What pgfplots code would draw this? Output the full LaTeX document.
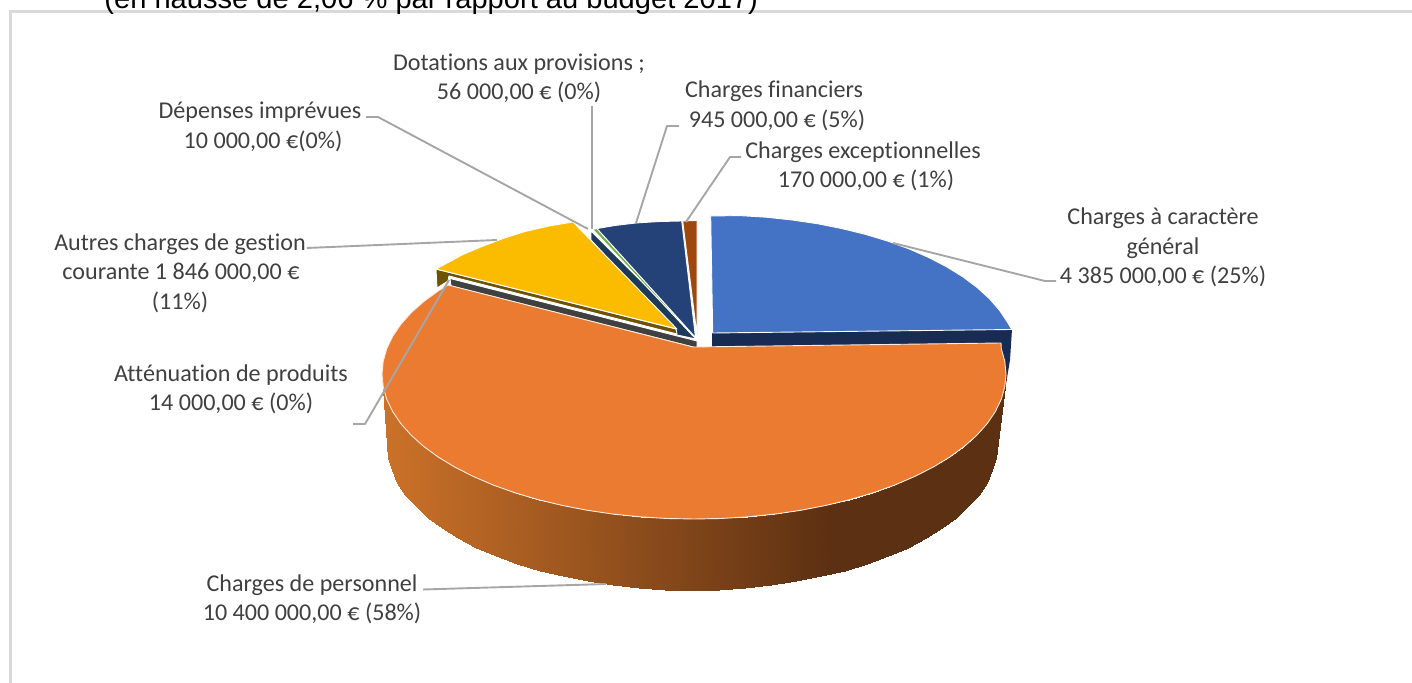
\documentclass[border=0pt]{standalone}
\usepackage{pgfplots}
\pgfplotsset{compat=1.18}
\usepackage{fontspec}
\setmainfont{Carlito}[Ligatures=NoCommon]
\newfontfamily\arialf{Liberation Sans}
\definecolor{cBlue}{RGB}{68,114,196}
\definecolor{cBlueD}{RGB}{24,43,83}
\definecolor{cOrange}{RGB}{234,123,49}
\definecolor{cGrey}{RGB}{64,64,64}
\definecolor{cYel}{RGB}{251,188,0}
\definecolor{cYelD}{RGB}{110,82,0}
\definecolor{cGreen}{RGB}{112,173,71}
\definecolor{cNavy}{RGB}{36,66,120}
\definecolor{cTeal}{RGB}{30,58,90}
\definecolor{cBrown}{RGB}{158,72,14}
\definecolor{cLead}{RGB}{166,166,166}
\definecolor{cFrame}{RGB}{217,217,217}
\definecolor{cText}{RGB}{64,64,64}
\tikzset{lab/.style={font=\fontsize{12.05pt}{14pt}\selectfont, text=cText, anchor=base, inner sep=0pt}}
\begin{document}
\begin{tikzpicture}
\clip (0,0) rectangle (706pt,341.5pt);
\begin{axis}[
  at={(0,0)}, anchor=south west,
  scale only axis, width=706pt, height=341.5pt,
  xmin=0, xmax=1412, ymin=0, ymax=683, y dir=reverse,
  hide axis, clip=false,
  colormap={side}{rgb255(0cm)=(204,114,41); rgb255(4.5cm)=(92,48,18); rgb255(6.24cm)=(92,48,18)},
  point meta min=382, point meta max=1006,
  edge/.style={draw=white, line width=0.45pt, line join=round},
  lead/.style={draw=cLead, line width=0.95pt, line join=round},
]
% frame
\addplot[draw=cFrame, line width=1.1pt] coordinates {(10.5,700) (10.5,11.5) (1430,11.5)};
% blue wall
\addplot[fill=cBlueD, draw=none] coordinates {(712,333) (1012,329) (1010,360) (1004,396) (990,395) (712,347)} -- cycle;
% small wall
\addplot[fill=cTeal, edge] coordinates {(591,231) (591,240) (677,335) (696,339) (680,320)} -- cycle;
\addplot[fill=cGreen, edge] coordinates {(592.7,229.3) (597,228.6) (695,337) (693,336)} -- cycle;
\addplot[fill=cNavy, edge] coordinates {(597,228.6) (615,225.5) (636,223) (660,221.5) (681.7,221) (695.5,337.5)} -- cycle;
\addplot[fill=cBrown, edge] coordinates {(682.7,221) (697,220.5) (697,335)} -- cycle;
% yellow
\addplot[fill=cYelD, edge] coordinates {(436,269) (437,288) (448,281) (449,276) (677,334) (676,329)} -- cycle;
\addplot[fill=cYel, edge] coordinates {(436,269) (463,254.5) (482,246.5) (503,238.5) (525,231.5) (549,226) (573,222) (677,329)} -- cycle;
% attenuation
\addplot[fill=cGrey, edge] coordinates {(450,278.5) (697,341) (697,348) (451,286)} -- cycle;
% orange side
\addplot[surf, shader=interp, point meta=x, mesh/rows=2, mesh/ordering=x varies] table {
1006 374
1004.8 386.6
1001.3 399.2
995.4 411.5
987.2 423.6
976.8 435.3
964.2 446.5
949.6 457.2
933 467.2
914.6 476.5
894.6 485.1
873 492.8
850 499.6
825.9 505.4
800.7 510.3
774.7 514.1
748.2 516.8
721.2 518.5
694 519
666.8 518.5
639.8 516.8
613.3 514.1
587.3 510.3
562.1 505.4
538 499.6
515 492.8
493.4 485.1
473.4 476.5
455 467.2
438.4 457.2
423.8 446.5
411.2 435.3
400.8 423.6
392.6 411.5
386.7 399.2
383.2 386.6
382 374
997 445
995.8 457.6
992.4 470.2
986.6 482.5
978.6 494.6
968.4 506.3
956.1 517.5
941.9 528.2
925.6 538.2
907.7 547.5
888 556.1
866.9 563.8
844.5 570.6
820.9 576.4
796.3 581.3
770.9 585.1
744.9 587.8
718.6 589.5
692 590
665.4 589.5
639.1 587.8
613.1 585.1
587.7 581.3
563.1 576.4
539.5 570.6
517.1 563.8
496 556.1
476.3 547.5
458.4 538.2
442.1 528.2
427.9 517.5
415.6 506.3
405.4 494.6
397.4 482.5
391.6 470.2
388.2 457.6
387 445
};
% orange top
\addplot[fill=cOrange, draw=white!85!cOrange, line width=0.45pt, line join=round] coordinates {
(693,347) (1001,343) (1001.3,348.8) (1004.8,361.4) (1006,374) (1004.8,386.6) (1001.3,399.2) (995.4,411.5) (987.2,423.6) (976.8,435.3) (964.2,446.5) (949.6,457.2) (933,467.2) (914.6,476.5) (894.6,485.1) (873,492.8) (850,499.6) (825.9,505.4) (800.7,510.3) (774.7,514.1) (748.2,516.8) (721.2,518.5) (694,519) (666.8,518.5) (639.8,516.8) (613.3,514.1) (587.3,510.3) (562.1,505.4) (538,499.6) (515,492.8) (493.4,485.1) (473.4,476.5) (455,467.2) (438.4,457.2) (423.8,446.5) (411.2,435.3) (400.8,423.6) (392.6,411.5) (386.7,399.2) (383.2,386.6) (382,374) (383.2,361.4) (386.7,348.8) (392.6,336.5) (400.8,324.4) (411.2,312.7) (423.8,301.5) (438.4,290.8) (448,285)} -- cycle;
% blue top
\addplot[fill=cBlue, edge] coordinates {
(712.7,333) (710.7,216) (739.6,215.6) (766,217.2) (792,220) (817.3,223.7) (841.9,228.6) (865.5,234.4) (888,241.2) (909,248.9) (928.7,257.5) (946.6,266.8) (962.8,276.8) (977.1,287.5) (989.4,298.7) (999.6,310.4) (1007.6,322.5) (1011.7,329.5)} -- cycle;
% leaders
\addplot[lead] coordinates {(893,243) (1045,281) (1056,281)};
\addplot[lead] coordinates {(606,584) (423,589.5)};
\addplot[lead] coordinates {(353,424) (365,424) (449,280)};
\addplot[lead] coordinates {(307,248) (497,240)};
\addplot[lead] coordinates {(366,117) (378,117) (588,229)};
\addplot[lead] coordinates {(591.7,106) (591.7,229)};
\addplot[lead] coordinates {(679,126) (667,126) (636,223)};
\addplot[lead] coordinates {(741,157) (730,157) (686,222)};
% labels
\node[lab] at (axis cs:519,70.5) {Dotations aux provisions ;};
\node[lab] at (axis cs:519,99.5) {56 000,00 € (0\%)};
\node[lab] at (axis cs:774,97.5) {Charges financiers};
\node[lab] at (axis cs:777,127.5) {945 000,00 € (5\%)};
\node[lab] at (axis cs:863,158.5) {Charges exceptionnelles};
\node[lab] at (axis cs:866,187.5) {170 000,00 € (1\%)};
\node[lab] at (axis cs:1163,224.5) {Charges à caractère};
\node[lab] at (axis cs:1163,254.5) {général};
\node[lab] at (axis cs:1163,283.5) {4 385 000,00 € (25\%)};
\node[lab] at (axis cs:260,118.5) {Dépenses imprévues};
\node[lab] at (axis cs:263,148.5) {10 000,00 €(0\%)};
\node[lab] at (axis cs:180,250.5) {Autres charges de gestion};
\node[lab] at (axis cs:181,279.5) {courante 1 846 000,00 €};
\node[lab] at (axis cs:180,309.5) {(11\%)};
\node[lab] at (axis cs:231,381.5) {Atténuation de produits};
\node[lab] at (axis cs:231,410.5) {14 000,00 € (0\%)};
\node[lab] at (axis cs:312,591.5) {Charges de personnel};
\node[lab] at (axis cs:312,620.5) {10 400 000,00 € (58\%)};
% heading cut by the page edge
\node[font=\arialf\fontsize{14.55pt}{16pt}\selectfont, text=black, anchor=base west, inner sep=0pt] at (axis cs:104,8.5) {(en hausse de 2,06 \% par rapport au budget 2017)};
\end{axis}
\end{tikzpicture}
\end{document}
